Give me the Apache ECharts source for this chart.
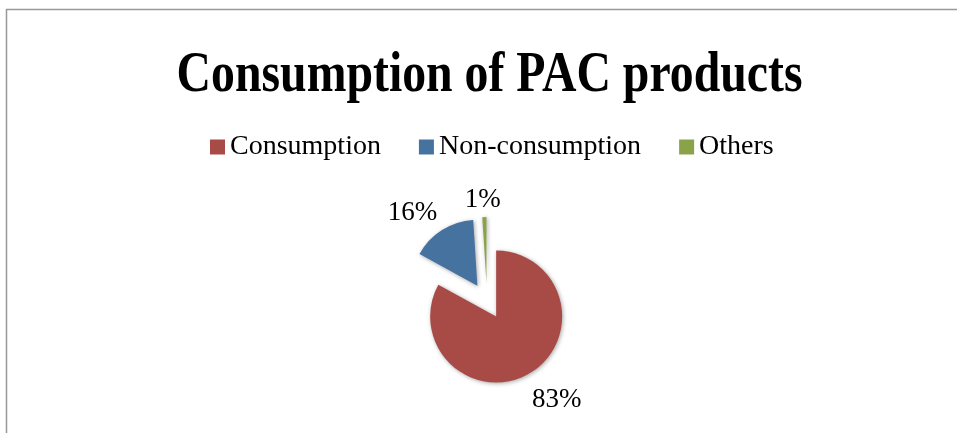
<!DOCTYPE html>
<html>
<head>
<meta charset="utf-8">
<script src="https://cdn.jsdelivr.net/npm/echarts@6/dist/echarts.min.js"></script>
<style>html,body{margin:0;padding:0;background:#fff;}#c{width:957px;height:433px;}</style>
</head>
<body>
<div id="c"></div>
<script>
const titleText = 'Consumption of PAC products';
const categories = ['Consumption', 'Non-consumption', 'Others'];
const values = [83, 16, 1];
const colors = ['#A84B46', '#45729F', '#8AA24A'];

// per-slice label placement tweaks (style only)
const labelLen = [31, 20, 17];
const labelDist = [-13.5, -6, -17];

const chart = echarts.init(document.getElementById('c'));
chart.setOption({
  animation: false,
  backgroundColor: '#fff',
  graphic: [{
    type: 'rect', left: 4, top: 7,
    shape: { width: 1000, height: 500 },
    style: { fill: 'none', stroke: '#999', lineWidth: 1.5 },
    silent: true
  }, {
    type: 'text', x: 489.5, y: 77, scaleX: 0.853, silent: true,
    style: {
      text: titleText, align: 'center', verticalAlign: 'middle',
      fontFamily: 'Liberation Serif', fontWeight: 'bold', fontSize: 56, fill: '#000'
    }
  }],
  color: colors,
  legend: {
    data: categories, top: 128, left: 205,
    itemWidth: 15, itemHeight: 15, itemGap: 38, icon: 'rect',
    textStyle: { fontFamily: 'Liberation Serif', fontSize: 28, color: '#000' }
  },
  series: [{
    type: 'pie',
    center: [487, 301], radius: 66,
    startAngle: 90, clockwise: true,
    selectedMode: 'multiple', selectedOffset: 18,
    avoidLabelOverlap: false,
    itemStyle: { shadowBlur: 4, shadowColor: 'rgba(0,0,0,0.35)', shadowOffsetX: 1, shadowOffsetY: 1 },
    label: {
      show: true, position: 'outside',
      formatter: p => Math.round(p.value) + '%',
      fontFamily: 'Liberation Serif', fontSize: 27, color: '#000'
    },
    labelLine: { show: false, length: 8, length2: 0 },
    emphasis: { disabled: true },
    data: categories.map((n, i) => ({
      name: n, value: values[i], selected: true,
      labelLine: { show: false, length: labelLen[i], length2: 0 },
      label: { distanceToLabelLine: labelDist[i] }
    }))
  }]
});
</script>
</body>
</html>
